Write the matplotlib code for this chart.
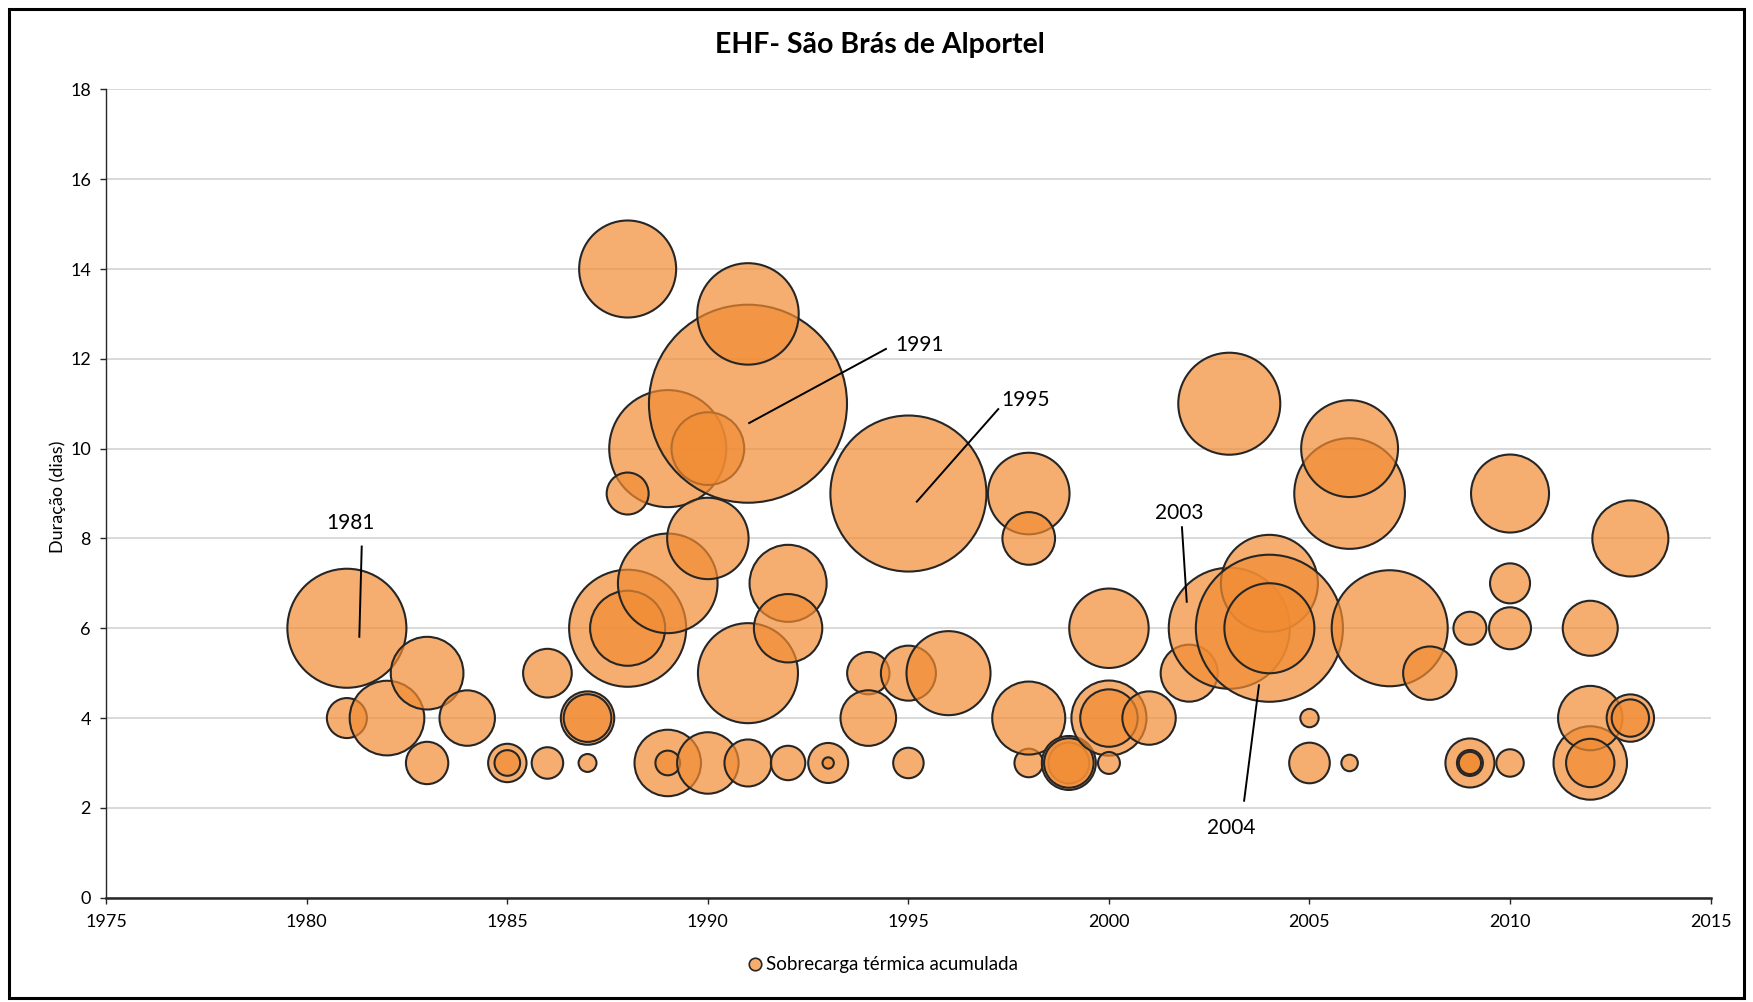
import numpy as np
import matplotlib.pyplot as plt
from matplotlib.lines import Line2D
from matplotlib.patches import Rectangle

plt.rcParams["font.family"] = ["Lato", "DejaVu Sans"]

# eventos EHF, pela ordem em que sao desenhados
anos = [1981, 1981, 1982, 1983, 1983, 1984, 1985, 1985, 1986, 1986,
        1987, 1987, 1987, 1988, 1988, 1988, 1989, 1989, 1988, 1989,
        1989, 1990, 1990, 1990, 1991, 1991, 1991, 1991, 1992, 1992,
        1992, 1993, 1993, 1994, 1994, 1995, 1995, 1995, 1996, 1998,
        1998, 1998, 1998, 1999, 1999, 1999, 2000, 2000, 2000, 2000,
        2001, 2002, 2003, 2003, 2004, 2004, 2004, 2005, 2005, 2006,
        2006, 2006, 2007, 2008, 2009, 2009, 2009, 2009, 2010, 2010,
        2010, 2010, 2012, 2012, 2012, 2012, 2013, 2013, 2013]
duracao = [6, 4, 4, 5, 3, 4, 3, 3, 5, 3,
           3, 4, 4, 6, 6, 14, 7, 10, 9, 3,
           3, 8, 10, 3, 5, 3, 11, 13, 7, 6,
           3, 3, 3, 5, 4, 9, 5, 3, 5, 9,
           8, 3, 4, 3, 3, 3, 6, 4, 4, 3,
           4, 5, 11, 6, 7, 6, 6, 4, 3, 9,
           10, 3, 6, 5, 6, 3, 3, 3, 9, 7,
           6, 3, 6, 3, 4, 3, 8, 4, 4]
sobrecarga = [88.5, 10.0, 34.8, 33.0, 11.2, 19.2, 9.2, 4.1, 14.8, 6.2,
              2.0, 17.8, 14.2, 85.6, 35.2, 58.8, 62.0, 85.6, 11.0, 27.6,
              3.8, 41.4, 33.0, 23.6, 62.5, 13.8, 245.0, 64.3, 37.1, 29.2,
              7.4, 10.0, 0.8, 11.2, 19.3, 152.1, 18.9, 5.8, 44.1, 41.6,
              17.3, 5.1, 33.3, 10.5, 18.2, 15.3, 39.4, 35.2, 20.6, 3.0,
              17.8, 20.3, 65.0, 91.5, 58.8, 135.1, 50.6, 2.1, 10.3, 76.5,
              58.6, 1.7, 84.1, 17.8, 6.8, 15.0, 4.2, 3.1, 38.0, 10.0,
              11.0, 4.7, 18.9, 33.7, 25.9, 14.6, 36.1, 14.0, 8.7]

x_ticks = list(range(1975, 2016, 5))
y_ticks = list(range(0, 19, 2))

fill = (0.945, 0.55, 0.2, 0.7)
edge = "#262626"

dpi = 100
fig = plt.figure(figsize=(17.53, 10.02), dpi=dpi)
ax = fig.add_axes([0.0606, 0.1041, 0.9152, 0.8067])

# como no Excel: a maior bolha tem ~25% da altura da area do grafico
ax_h_px = 0.8067 * 10.02 * dpi
d_max = 0.25 * ax_h_px * 0.98
v = np.array(sobrecarga)
diam_px = d_max * np.sqrt(v / v.max())
sizes = (diam_px * 72.0 / dpi) ** 2

ax.scatter(anos, duracao, s=sizes, facecolors=[fill], edgecolors=edge,
           linewidths=1.5, zorder=3)

ax.set_xlim(1975, 2015)
ax.set_ylim(0, 18)
ax.set_xticks(x_ticks)
ax.set_yticks(y_ticks)
ax.yaxis.grid(True, color="#d9d9d9", lw=1.4)
ax.set_axisbelow(True)

for s in ["top", "right"]:
    ax.spines[s].set_visible(False)
ax.spines["left"].set_color(edge)
ax.spines["left"].set_linewidth(1.0)
ax.spines["bottom"].set_color(edge)
ax.spines["bottom"].set_linewidth(1.8)
ax.tick_params(axis="both", direction="out", length=4, width=1,
               color=edge, labelsize=13, labelcolor="black")
ax.tick_params(axis="x", pad=8)
ax.tick_params(axis="y", pad=7)

# rotulos dos anos com linhas de chamada
rotulos = [
    ("1981", (1981.08, 8.34), (1981.37, 7.82), (1981.31, 5.81)),
    ("1991", (1995.27, 12.31), (1994.44, 12.22), (1991.03, 10.57)),
    ("1995", (1997.91, 11.09), (1997.24, 10.88), (1995.21, 8.82)),
    ("2003", (2001.75, 8.57), (2001.82, 8.25), (2001.94, 6.59)),
    ("2004", (2003.04, 1.55), (2003.74, 4.73), (2003.37, 2.16)),
]
for txt, pos, p0, p1 in rotulos:
    ax.plot([p0[0], p1[0]], [p0[1], p1[1]], color="black", lw=1.4, zorder=5)
    ax.text(pos[0], pos[1], txt, ha="center", va="center", fontsize=15, zorder=5)

fig.text(0.502, 0.955, "EHF- São Brás de Alportel", ha="center", va="center",
         fontsize=20.5, fontweight="bold")
fig.text(0.033, 0.504, "Duração (dias)", ha="center", va="center",
         rotation=90, fontsize=13)

handle = Line2D([], [], marker="o", ls="", markersize=9,
                markerfacecolor=fill, markeredgecolor=edge, markeredgewidth=1.2)
fig.legend([handle], ["Sobrecarga térmica acumulada"], loc="center",
           bbox_to_anchor=(0.503, 0.037), frameon=False, fontsize=13.5,
           handletextpad=0.1, handlelength=1.0)

fig.add_artist(Rectangle((0.0051, 0.004), 0.9897, 0.987, transform=fig.transFigure,
                         fill=False, ec="black", lw=2.2))

fig.savefig("out.png", dpi=dpi)
